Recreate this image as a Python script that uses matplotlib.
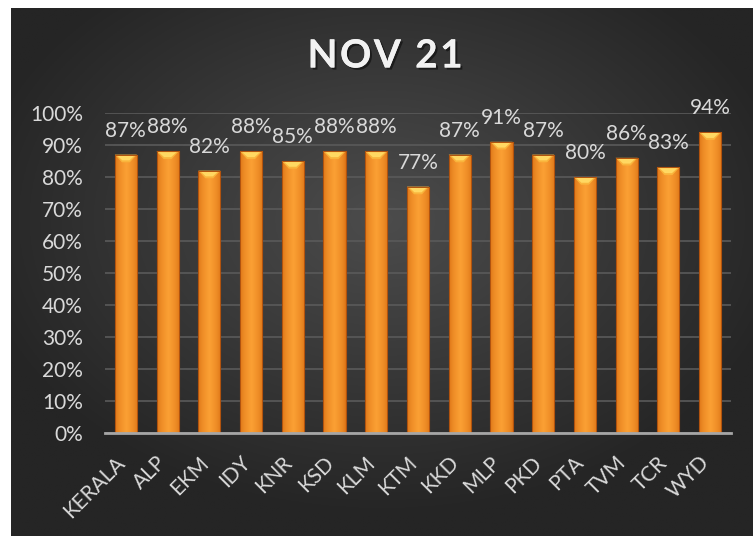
import matplotlib
matplotlib.use("Agg")
import matplotlib.pyplot as plt
import matplotlib.transforms as mtransforms
import matplotlib.patheffects as pe
from matplotlib.patches import Polygon
import numpy as np

categories = ["KERALA", "ALP", "EKM", "IDY", "KNR", "KSD", "KLM", "KTM",
              "KKD", "MLP", "PKD", "PTA", "TVM", "TCR", "WYD"]
values = [87, 88, 82, 88, 85, 88, 88, 77, 87, 91, 87, 80, 86, 83, 94]
yticks = [0, 10, 20, 30, 40, 50, 60, 70, 80, 90, 100]
title = "NOV 21"

FONT = ["Lato", "DejaVu Sans"]
W, H = 753, 536
fig = plt.figure(figsize=(W / 100, H / 100), dpi=100, facecolor="white")

# dark panel with radial gradient
bg = fig.add_axes([11 / W, 0, (W - 11) / W, (H - 8) / H], zorder=0)
bg.set_axis_off()
yy, xx = np.mgrid[0:1:300j, 0:1:400j]
r = np.sqrt(((xx - 0.5) / 0.75) ** 2 + ((yy - 0.6) / 0.75) ** 2)
r = np.clip(r / 0.75, 0, 1)
c_in = np.array([0x4c, 0x4c, 0x4c]) / 255
c_out = np.array([0x25, 0x25, 0x25]) / 255
img = c_in[None, None, :] * (1 - r[..., None]) + c_out[None, None, :] * r[..., None]
bg.imshow(img, extent=[0, 1, 0, 1], aspect="auto", origin="lower")
bg.set_xlim(0, 1)
bg.set_ylim(0, 1)

# plot area
left, right = 105 / W, 731 / W
bottom, top = (H - 433) / H, (H - 113) / H
ax = fig.add_axes([left, bottom, right - left, top - bottom], zorder=1)
ax.patch.set_alpha(0)
x = np.arange(len(categories))
vals = np.array(values) / 100.0

bars = ax.bar(x, vals, width=0.53, color="#F7931E", edgecolor="#B8560E",
              linewidth=0.8, zorder=3)

# horizontal shading inside each bar
grad = np.linspace(0, 1, 64)
prof = 1 - np.abs(grad - 0.5) * 2  # 0 at edges, 1 centre
c_edge = np.array([0xD8, 0x6C, 0x10]) / 255
c_mid = np.array([0xFB, 0xA0, 0x34]) / 255
gimg = c_edge[None, :] * (1 - prof[:, None] ** 0.5) + c_mid[None, :] * (prof[:, None] ** 0.5)
gimg = gimg[None, :, :]
for b in bars:
    bx, bw, bh = b.get_x(), b.get_width(), b.get_height()
    im = ax.imshow(gimg, extent=[bx, bx + bw, 0, bh], aspect="auto",
                   origin="lower", zorder=3.5, interpolation="bilinear")
    im.set_clip_path(b)
    d = 0.024
    poly = Polygon([[bx, bh], [bx + bw, bh], [bx + bw * 0.68, bh - d],
                    [bx + bw * 0.32, bh - d]], closed=True,
                   facecolor="#F9B43C", edgecolor="none", zorder=4)
    ax.add_patch(poly)
    poly2 = Polygon([[bx + bw * 0.1, bh - d * 0.1], [bx + bw * 0.9, bh - d * 0.1],
                     [bx + bw * 0.66, bh - d * 0.75], [bx + bw * 0.34, bh - d * 0.75]],
                    closed=True, facecolor="#FFD862", edgecolor="none", zorder=4.1)
    ax.add_patch(poly2)
    ax.plot([bx, bx + bw, bx + bw, bx, bx], [0, 0, bh, bh, 0], color="#B0520E",
            lw=0.7, zorder=4.2)
    ax.annotate(f"{int(round(bh * 100))}%", (bx + bw / 2, bh),
                xytext=(0, 13), textcoords="offset points", ha="center",
                va="baseline", fontsize=15, color="#D9D9D9", family=FONT,
                zorder=5)

ax.set_xlim(-0.5, len(categories) - 0.5)
ax.set_ylim(0, 1.0)
ax.set_yticks([t / 100 for t in yticks])
ax.set_yticklabels([f"{t}%" for t in yticks], fontsize=15, color="#D9D9D9",
                   family=FONT)
ax.yaxis.grid(True, color="#5A5A5A", linewidth=1.2, zorder=1)
ax.set_axisbelow(True)
ax.tick_params(axis="y", length=0, pad=16)
ax.tick_params(axis="x", length=0, pad=14)
ax.set_xticks(x)
ax.set_xticklabels(categories, rotation=45, ha="right", va="top",
                   fontsize=15, color="#D9D9D9", family=FONT)
offset = mtransforms.ScaledTranslation(3 / 100, 0, fig.dpi_scale_trans)
for lab in ax.get_xticklabels():
    lab.set_transform(lab.get_transform() + offset)
for s in ["top", "right", "left"]:
    ax.spines[s].set_visible(False)
ax.spines["bottom"].set_color("#A6A6A6")
ax.spines["bottom"].set_linewidth(2)
ax.spines["bottom"].set_zorder(6)

spaced_title = "\u200a".join(title)
fig.text(385 / W, 1 - 56 / H, spaced_title,
         ha="center", va="center", fontsize=28,
         fontweight="bold", color="#F2F2F2", family=FONT, zorder=10,
         path_effects=[pe.withSimplePatchShadow(offset=(1.5, -1.5),
                                                shadow_rgbFace="#111111",
                                                alpha=0.7), pe.Normal()])

fig.savefig("out.png", dpi=100, facecolor="white")
